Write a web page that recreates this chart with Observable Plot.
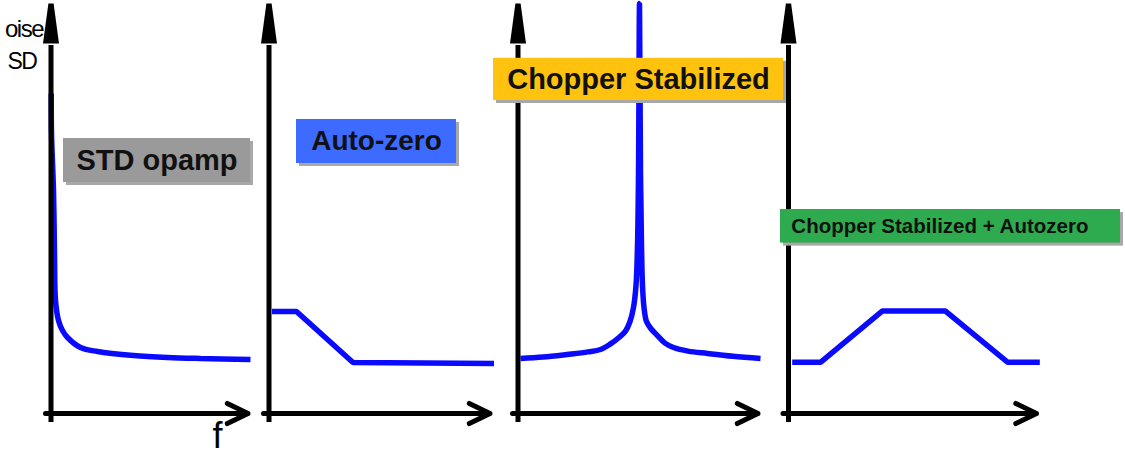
<!DOCTYPE html>
<html><head><meta charset="utf-8">
<script src="https://cdn.jsdelivr.net/npm/d3@7"></script>
<script src="https://cdn.jsdelivr.net/npm/@observablehq/plot@0.6"></script>
<style>html,body{margin:0;padding:0;background:#fff}#chart svg{display:block;background:#fff}</style>
</head><body><div id="chart"></div><script>
// ---- data ----
const panels = ["STD opamp", "Auto-zero", "Chopper Stabilized", "Chopper Stabilized + Autozero"];
const panelColors = ["#9a9a9a", "#3d6bff", "#ffc20e", "#2eab4e"];
// local frequency (f) / noise values, per panel
const stdF     = [0.25, 0.5, 2.5, 3.5, 4.5, 7.5, 11.5, 16.5, 29.5, 46.5, 82.5, 116.5, 149.5, 199.5];
const stdNoise = [80, 70, 55.75, 40, 28.25, 23.25, 20.75, 19, 16.5, 15.5, 14.5, 14, 13.75, 13.5];
const azF      = [3, 27.5, 84, 225];
const azNoise  = [25.5, 25.5, 12.75, 12.5];
const chopF     = [2.5, 25, 49, 70, 82.5, 92.5, 101, 107.5, 112, 115.5, 118, 119.5, 120.5, 121.5, 122.5, 123.5, 124.5, 126, 128.5, 133, 139, 147, 155.5, 170, 189.5, 215, 242.5];
const chopNoise = [13.75, 14.1, 14.75, 15.4, 16, 17.4, 19, 20.6, 23, 26.5, 32, 42, 60, 102.5, 60, 42, 32, 26.5, 23, 21.2, 19.6, 17.6, 16.5, 15.6, 15, 14.3, 13.75];
const czF      = [3.7, 32, 93.7, 157, 219.3, 251.3];
const czNoise  = [12.8, 12.8, 25.6, 25.6, 12.8, 12.8];
const yLabels  = ["oise", "SD"];
const xLabel   = "f";

// ---- layout (not data) ----
const origin = [50.5, 268.5, 517.5, 788];
const axisLen = [197, 221, 240, 248];
const series = [[stdF, stdNoise], [azF, azNoise], [chopF, chopNoise], [czF, czNoise]];
const curves = series.flatMap(([F, N], i) => F.map((f, j) => ({panel: panels[i], idx: i, x: origin[i] + f, noise: N[j]})));
const smoothCurves = curves.filter(d => d.idx === 0 || d.idx === 2);
const sharpCurves = curves.filter(d => d.idx === 1 || d.idx === 3);
const axes = panels.map((p, i) => ({panel: p, x0: origin[i], xs: origin[i] - 5.5, xe: origin[i] + axisLen[i]}));
const boxes = [
  {x1: 63, x2: 250, y1: 57.75, y2: 68.75, tx: 156.5, size: 29},
  {x1: 296, x2: 456, y1: 62.5, y2: 73.5, tx: 376, size: 28},
  {x1: 493, x2: 783, y1: 78.25, y2: 88.8, tx: 638, size: 29},
  {x1: 780, x2: 1120, y1: 42.6, y2: 51, tx: 939.4, size: 20.5}
].map((b, i) => ({...b, label: panels[i], color: panelColors[i], ty: (b.y1 + b.y2) / 2}));

const arrowUp = {
  draw(ctx) {
    ctx.moveTo(-8, 20); ctx.lineTo(-2.6, -20); ctx.lineTo(2.6, -20); ctx.lineTo(8, 20); ctx.closePath();
  }
};
const font = "Liberation Sans, Arial, sans-serif";
const blue = "#0a0aff";

const chart = Plot.plot({
  width: 1125, height: 455, margin: 0,
  x: {domain: [0, 1125], range: [0, 1125], axis: null},
  y: {domain: [0, 100], range: [413, 13], axis: null},
  marks: [
    Plot.line(smoothCurves, {x: "x", y: "noise", z: "panel", stroke: blue, strokeWidth: 5.5, curve: "catmull-rom", strokeLinejoin: "miter", strokeLinecap: "butt"}),
    Plot.line(sharpCurves, {x: "x", y: "noise", z: "panel", stroke: blue, strokeWidth: 5.5, strokeLinejoin: "miter", strokeLinecap: "butt"}),
    Plot.ruleX(axes, {x: "x0", y1: -2.25, y2: 92, stroke: "black", strokeWidth: 5}),
    Plot.dot(axes, {x: "x0", y: 97.5, symbol: arrowUp, fill: "black", stroke: "none", r: 8}),
    Plot.arrow(axes, {x1: "xs", y1: 0, x2: "xe", y2: 0, stroke: "black", strokeWidth: 5, headLength: 6.9, headAngle: 52}),
    Plot.rect(boxes, {x1: "x1", x2: "x2", y1: "y1", y2: "y2", fill: "#a8a8a8", dx: 3, dy: 3}),
    Plot.rect(boxes, {x1: "x1", x2: "x2", y1: "y1", y2: "y2", fill: "color"}),
    Plot.text(boxes, {x: "tx", y: "ty", text: "label", fontSize: "size", fontWeight: "bold", fontFamily: font, fill: "#111", textAnchor: "middle", lineAnchor: "middle"}),
    Plot.text([yLabels[0]], {x: 42.5, y: 94.25, text: d => d, fontSize: 24, fontFamily: font, fill: "black", textAnchor: "end", lineAnchor: "bottom"}),
    Plot.text([yLabels[1]], {x: 7, y: 86.25, text: d => d, fontSize: 23, fontFamily: font, fill: "black", textAnchor: "start", lineAnchor: "bottom"}),
    Plot.text([xLabel], {x: 217, y: -8.5, text: d => d, fontSize: 36, fontFamily: font, fill: "black", textAnchor: "middle", lineAnchor: "bottom"})
  ]
});
chart.querySelectorAll("text").forEach(t => {
  if (t.textContent === "oise" || t.textContent === "SD") t.setAttribute("letter-spacing", "-1.5");
});
document.getElementById("chart").appendChild(chart);
</script></body></html>
